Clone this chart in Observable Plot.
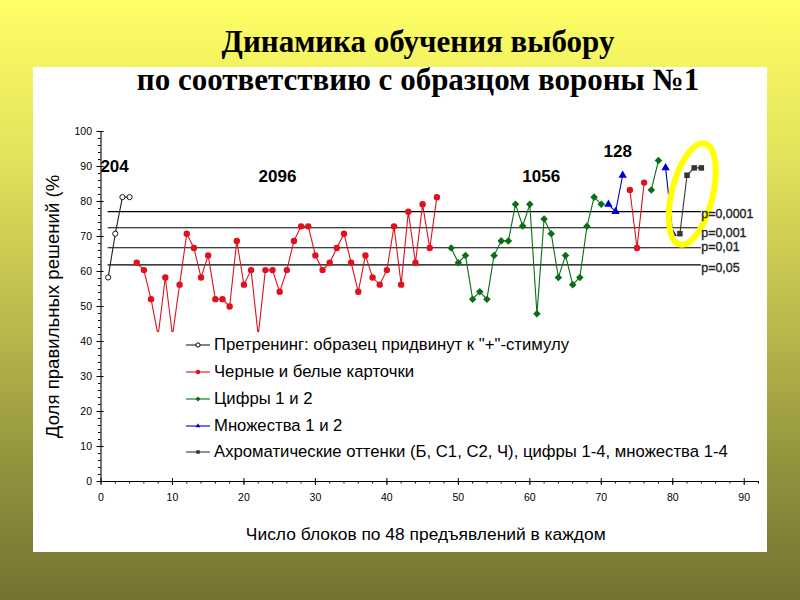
<!DOCTYPE html>
<html lang="ru"><head><meta charset="utf-8">
<script src="https://cdn.jsdelivr.net/npm/d3@7"></script>
<script src="https://cdn.jsdelivr.net/npm/@observablehq/plot@0.6"></script>
<style>
html,body{margin:0;padding:0}
body{width:800px;height:600px;overflow:hidden;position:relative;background:linear-gradient(to bottom,#ffff66 0%,#e4e45c 25%,#b8b84c 55%,#8f8f3c 80%,#737330 100%)}
#panel{position:absolute;left:33px;top:67px;width:734px;height:485px;background:#fff}
#chart{position:absolute;left:0;top:0}
#title{position:absolute;left:18px;width:800px;top:23px;text-align:center;font:bold 31px/38px "Liberation Serif",serif;color:#000;white-space:nowrap}
#legend{position:absolute;left:150px;top:332px;width:590px;height:136px;background:#fff;font:16.7px "Liberation Sans",Arial,sans-serif;color:#000}
#legend div{position:absolute;left:64px;white-space:nowrap;line-height:18px}
#legend svg{position:absolute;left:-28px;top:0;width:26px;height:18px}
</style></head><body>
<div id="panel"></div><div id="chart"></div>
<div id="title">Динамика обучения выбору<br>по соответствию с образцом вороны №1</div>
<div id="legend"></div>
<script>
const pretraining=[58.3,70.8,81.25,81.25];
const cards=[62.5,60.4,52.1,41.7,58.3,41.7,56.25,70.8,66.7,58.3,64.6,52.1,52.1,50,68.75,56.25,60.4,41.7,60.4,60.4,54.2,60.4,68.75,72.9,72.9,64.6,60.4,62.5,66.7,70.8,62.5,54.2,64.6,58.3,56.25,60.4,72.9,56.25,77.1,62.5,79.2,66.7,81.25];
const cardsLate=[83.3,66.7,85.4];
const digits=[66.7,62.5,64.6,52.1,54.2,52.1,64.6,68.75,68.75,79.2,73,79.2,47.9,75,70.8,58.3,64.6,56.25,58.3,72.9,81.25,79.2];
const digitsLate=[83.3,91.7];
const sets=[79.2,77.1,87.5];
const setsLate=[89.6,70.8];
const achromatic=[70.8,87.5,89.6,89.6];
const levels=[77.1,72.5,66.8,61.9];
const levelLabels=["p=0,0001","p=0,001","p=0,01","p=0,05"];
const levelLabelY=[76.3,70.9,67,61.1];
const counts=["204","2096","1056","128"];
const countX=[1.9,24.7,61.6,72.3];
const countY=[90,87.2,87.2,94.4];
const seriesNames=['Претренинг: образец придвинут к "+"-стимулу','Черные и белые карточки','Цифры 1 и 2','Множества 1 и 2','Ахроматические оттенки (Б, С1, С2, Ч), цифры 1-4, множества 1-4'];
const colors=["#222222","#e0101c","#0b6e14","#0000cc","#333333"];
const symbols=["circle","circle","diamond2","triangle2","square2"];
const xMajor=d3.range(0,91,10), xMinor=d3.range(0,93,2);
const yMajor=d3.range(0,101,10), yMinor=d3.range(0,101,2);
const segments=[[pretraining,1,0],[cards,5,1],[digits,49,2],[sets,71,3],[cardsLate,74,1],[digitsLate,77,2],[setsLate,79,3],[achromatic,81,4]];
const rows=segments.flatMap(([vals,start,s],seg)=>vals.map((v,i)=>({x:start+i,y:v,s,seg})));
const font='"Liberation Sans",Arial,sans-serif';
const lineMarks=d3.range(5).map(s=>Plot.line(rows.filter(d=>d.s===s),{x:"x",y:"y",z:"seg",stroke:colors[s],strokeWidth:1.1,curve:"linear"}));
const dotMarks=d3.range(5).map(s=>Plot.dot(rows.filter(d=>d.s===s),{x:"x",y:"y",symbol:()=>symbols[s],r:s===0?2.6:s===1?3.2:s===2?3.4:s===3?4:3.5,fill:s===0?"#fff":colors[s],stroke:s===0?"#000":"none",strokeWidth:0.9}));
const ellipse=(index,{x,y})=>{
  const cx=x(82.8), cy=y(82);
  return d3.create("svg:ellipse").attr("cx",cx).attr("cy",cy).attr("rx",20.5).attr("ry",52)
   .attr("fill","none").attr("stroke","#ffff00").attr("stroke-width",6).attr("transform",`rotate(14 ${cx} ${cy})`).node();
};
const chart=Plot.plot({
  width:800,height:600,marginLeft:100.5,marginRight:42,marginTop:131,marginBottom:119,
  style:{background:"transparent",fontFamily:font,overflow:"visible"},
  x:{domain:[0,92],label:null},
  y:{domain:[0,100],label:null},
  marks:[
    Plot.ruleY(levels,{x1:1,x2:84,stroke:"#000",strokeWidth:1.1}),
    ...lineMarks,...dotMarks,
    Plot.ruleX([0],{stroke:"#000",strokeWidth:1.1}),
    Plot.ruleY([0],{stroke:"#000",strokeWidth:1.1}),
    Plot.axisX({ticks:xMinor,tickSize:2.5,text:null,label:null,strokeWidth:1}),
    Plot.axisX({ticks:xMajor,tickSize:4,tickPadding:8,label:null,fontSize:10.5,color:"#000",strokeWidth:1}),
    Plot.axisX({ticks:xMajor,tickSize:-3,text:null,label:null,strokeWidth:1}),
    Plot.axisY({ticks:yMinor,tickSize:2.5,text:null,label:null,strokeWidth:1}),
    Plot.axisY({ticks:yMajor,tickSize:4,tickPadding:5,label:null,fontSize:10.5,color:"#000",strokeWidth:1}),
    Plot.axisY({ticks:yMajor,tickSize:-3,text:null,label:null,strokeWidth:1}),
    ellipse,
    Plot.text(counts,{x:(d,i)=>countX[i],y:(d,i)=>countY[i],text:d=>d,fontSize:17,fontWeight:"bold",fill:"#000"}),
    Plot.text(levelLabels,{x:()=>84,y:(d,i)=>levelLabelY[i],text:d=>d,textAnchor:"start",fontSize:12.4,fill:"#222",stroke:"#222",strokeWidth:0.35}),
    Plot.text(["Доля правильных решений (%"],{frameAnchor:"left",textAnchor:"middle",rotate:-90,dx:-48,fontSize:18.6,fill:"#000"}),
    Plot.text(["Число блоков по 48 предъявлений в каждом"],{frameAnchor:"bottom",dx:-4,dy:58,fontSize:17.4,fill:"#000"})
  ]
});
document.getElementById("chart").append(chart);
const legendTop=[4,31,58,85,111];
const legend=d3.select("#legend");
seriesNames.forEach((n,i)=>{
  const row=legend.append("div").style("top",legendTop[i]+"px").text(n);
  const sw=row.append("svg");
  sw.append("line").attr("x1",0).attr("x2",24).attr("y1",9).attr("y2",9).attr("stroke",colors[i]).attr("stroke-width",1.1);
  sw.append("path").attr("transform","translate(12,9)").attr("d",d3.symbol(d3["symbol"+({circle:"Circle",diamond2:"Diamond2",triangle2:"Triangle2",square2:"Square2"})[symbols[i]]],i===0?14:16)()).attr("fill",i===0?"#fff":colors[i]).attr("stroke",i===0?"#000":"none");
});
</script></body></html>
